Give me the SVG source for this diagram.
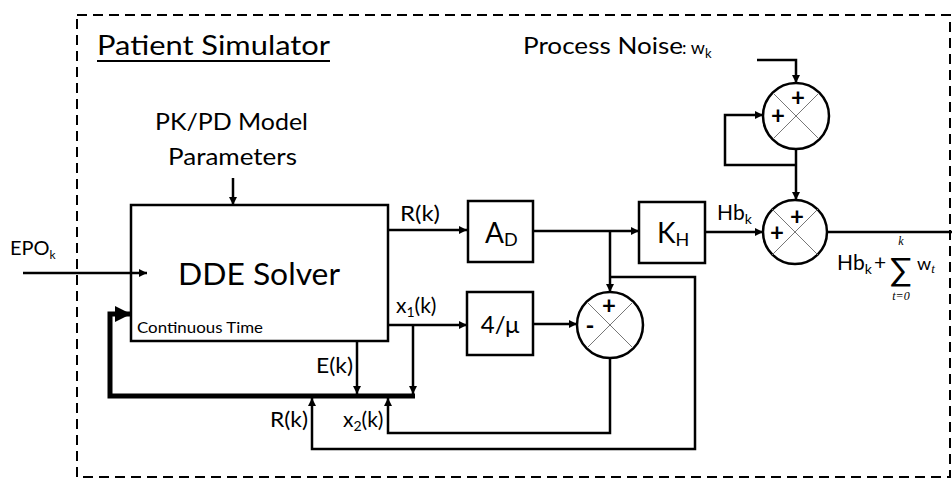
<svg xmlns="http://www.w3.org/2000/svg" width="952" height="479" viewBox="0 0 952 479">
<style>
text{font-family:Lato,"Liberation Sans",sans-serif;fill:#000}
.blk{fill:#fff;stroke:#000;stroke-width:2.5}
.sum{fill:#fff;stroke:#000;stroke-width:2.5}
.x{stroke:#777;stroke-width:1;fill:none}
.w{fill:none;stroke:#000;stroke-width:2.5}
.bus{fill:none;stroke:#000;stroke-width:5}
.lbl{font-size:21px}
.sg{font-size:24px;font-weight:bold;text-anchor:middle}
.math{font-family:"Liberation Serif","DejaVu Serif",serif;font-style:italic}
</style>
<defs>
<marker id="ah" viewBox="0 0 10 10" refX="10" refY="5" markerWidth="9" markerHeight="8" markerUnits="userSpaceOnUse" orient="auto"><path d="M0,0 L10,5 L0,10 z" fill="#000"/></marker>
<marker id="ahb" viewBox="0 0 10 10" refX="10" refY="5" markerWidth="18" markerHeight="16" markerUnits="userSpaceOnUse" orient="auto"><path d="M0,0 L10,5 L0,10 z" fill="#000"/></marker>
</defs>
<rect width="952" height="479" fill="#fff"/>
<g id="frame">
<rect x="77" y="15" width="873" height="462" fill="none" stroke="#000" stroke-width="2" stroke-dasharray="10 6"/>
<text x="97" y="55" font-size="26" textLength="233" lengthAdjust="spacingAndGlyphs">Patient Simulator</text>
<line x1="97" y1="61" x2="330" y2="61" stroke="#000" stroke-width="2"/>
</g>
<g id="params">
<text x="155" y="130" font-size="23" textLength="153" lengthAdjust="spacingAndGlyphs">PK/PD Model</text>
<text x="168" y="165" font-size="23" textLength="129" lengthAdjust="spacingAndGlyphs">Parameters</text>
</g>
<g id="dde">
<rect class="blk" x="131" y="205" width="257" height="136"/>
<text x="178" y="285" font-size="30" textLength="162" lengthAdjust="spacingAndGlyphs">DDE Solver</text>
<text x="137" y="333" font-size="15" textLength="126" lengthAdjust="spacingAndGlyphs">Continuous Time</text>
</g>
<g id="epo">
<text x="10" y="255" font-size="20">EPO<tspan font-size="12" dy="4">k</tspan></text>
</g>
<g id="ad">
<rect class="blk" x="468" y="201" width="65" height="61"/>
<text x="485" y="243" font-size="28">A<tspan font-size="18" dy="3">D</tspan></text>
</g>
<g id="kh">
<rect class="blk" x="639" y="202" width="66" height="61"/>
<text x="657" y="243" font-size="28">K<tspan font-size="18" dy="3">H</tspan></text>
</g>
<g id="mu">
<rect class="blk" x="467" y="292" width="66" height="63"/>
<text x="500" y="333" font-size="24" text-anchor="middle">4/μ</text>
</g>
<g id="sum1">
<circle class="sum" cx="610" cy="325" r="33"/>
<path class="x" d="M587,302 L633,348 M633,302 L587,348"/>
<text class="sg" x="609" y="314">+</text>
<text class="sg" x="590" y="334">-</text>
</g>
<g id="sum2">
<circle class="sum" cx="795" cy="232" r="32"/>
<path class="x" d="M772,209 L818,255 M818,209 L772,255"/>
<text class="sg" x="797" y="225">+</text>
<text class="sg" x="777" y="241">+</text>
</g>
<g id="sum3">
<circle class="sum" cx="796" cy="116" r="33"/>
<path class="x" d="M773,93 L819,139 M819,93 L773,139"/>
<text class="sg" x="798" y="106">+</text>
<text class="sg" x="778" y="124">+</text>
</g>
<g id="noise">
<text x="523" y="54" font-size="23" textLength="160" lengthAdjust="spacingAndGlyphs">Process Noise</text>
<text x="682" y="54" font-size="18">: w<tspan font-size="13" dy="4">k</tspan></text>
</g>
<g id="output">
<text x="837" y="270" font-size="21">Hb<tspan font-size="14" dy="4">k</tspan></text>
<text x="874" y="270" font-size="21">+</text>
<text x="890" y="281" font-size="32" font-family="Liberation Serif,DejaVu Serif,serif">∑</text>
<text class="math" x="901" y="245" font-size="12" text-anchor="middle">k</text>
<text class="math" x="901" y="300" font-size="12" text-anchor="middle">t=0</text>
<text x="917" y="270" font-size="18">w<tspan class="math" font-size="13" dy="3">t</tspan></text>
</g>
<g id="labels" class="lbl">
<text x="400" y="221" textLength="40" lengthAdjust="spacingAndGlyphs">R(k)</text>
<text x="396" y="313">x<tspan font-size="14" dy="4">1</tspan><tspan dy="-4">(k)</tspan></text>
<text x="316" y="373" textLength="37" lengthAdjust="spacingAndGlyphs">E(k)</text>
<text x="270" y="427" textLength="38" lengthAdjust="spacingAndGlyphs">R(k)</text>
<text x="343" y="427">x<tspan font-size="14" dy="4">2</tspan><tspan dy="-4">(k)</tspan></text>
<text x="717" y="220">Hb<tspan font-size="14" dy="4">k</tspan></text>
</g>
<g id="connectors">
<path class="w" d="M233,178 V205" marker-end="url(#ah)"/>
<path class="w" d="M23,273 H147" marker-end="url(#ah)"/>
<path class="w" d="M388,230 H467" marker-end="url(#ah)"/>
<path class="w" d="M533,231 H639" marker-end="url(#ah)"/>
<path class="w" d="M610,231 V292" marker-end="url(#ah)"/>
<path class="w" d="M610,277 H695 V449 H312 V398" marker-end="url(#ah)"/>
<path class="w" d="M388,325 H467" marker-end="url(#ah)"/>
<path class="w" d="M413,325 V394" marker-end="url(#ah)"/>
<path class="w" d="M357,341 V394" marker-end="url(#ah)"/>
<path class="bus" d="M415,396 H110 V314 H131" marker-end="url(#ahb)"/>
<path class="w" d="M533,324 H577" marker-end="url(#ah)"/>
<path class="w" d="M610,358 V433 H388 V398" marker-end="url(#ah)"/>
<path class="w" d="M705,232 H763" marker-end="url(#ah)"/>
<path class="w" d="M827,232 H952"/>
<path class="w" d="M757,60 H796 V83" marker-end="url(#ah)"/>
<path class="w" d="M796,149 V200" marker-end="url(#ah)"/>
<path class="w" d="M796,165 H725 V115 H763" marker-end="url(#ah)"/>
</g>
</svg>
